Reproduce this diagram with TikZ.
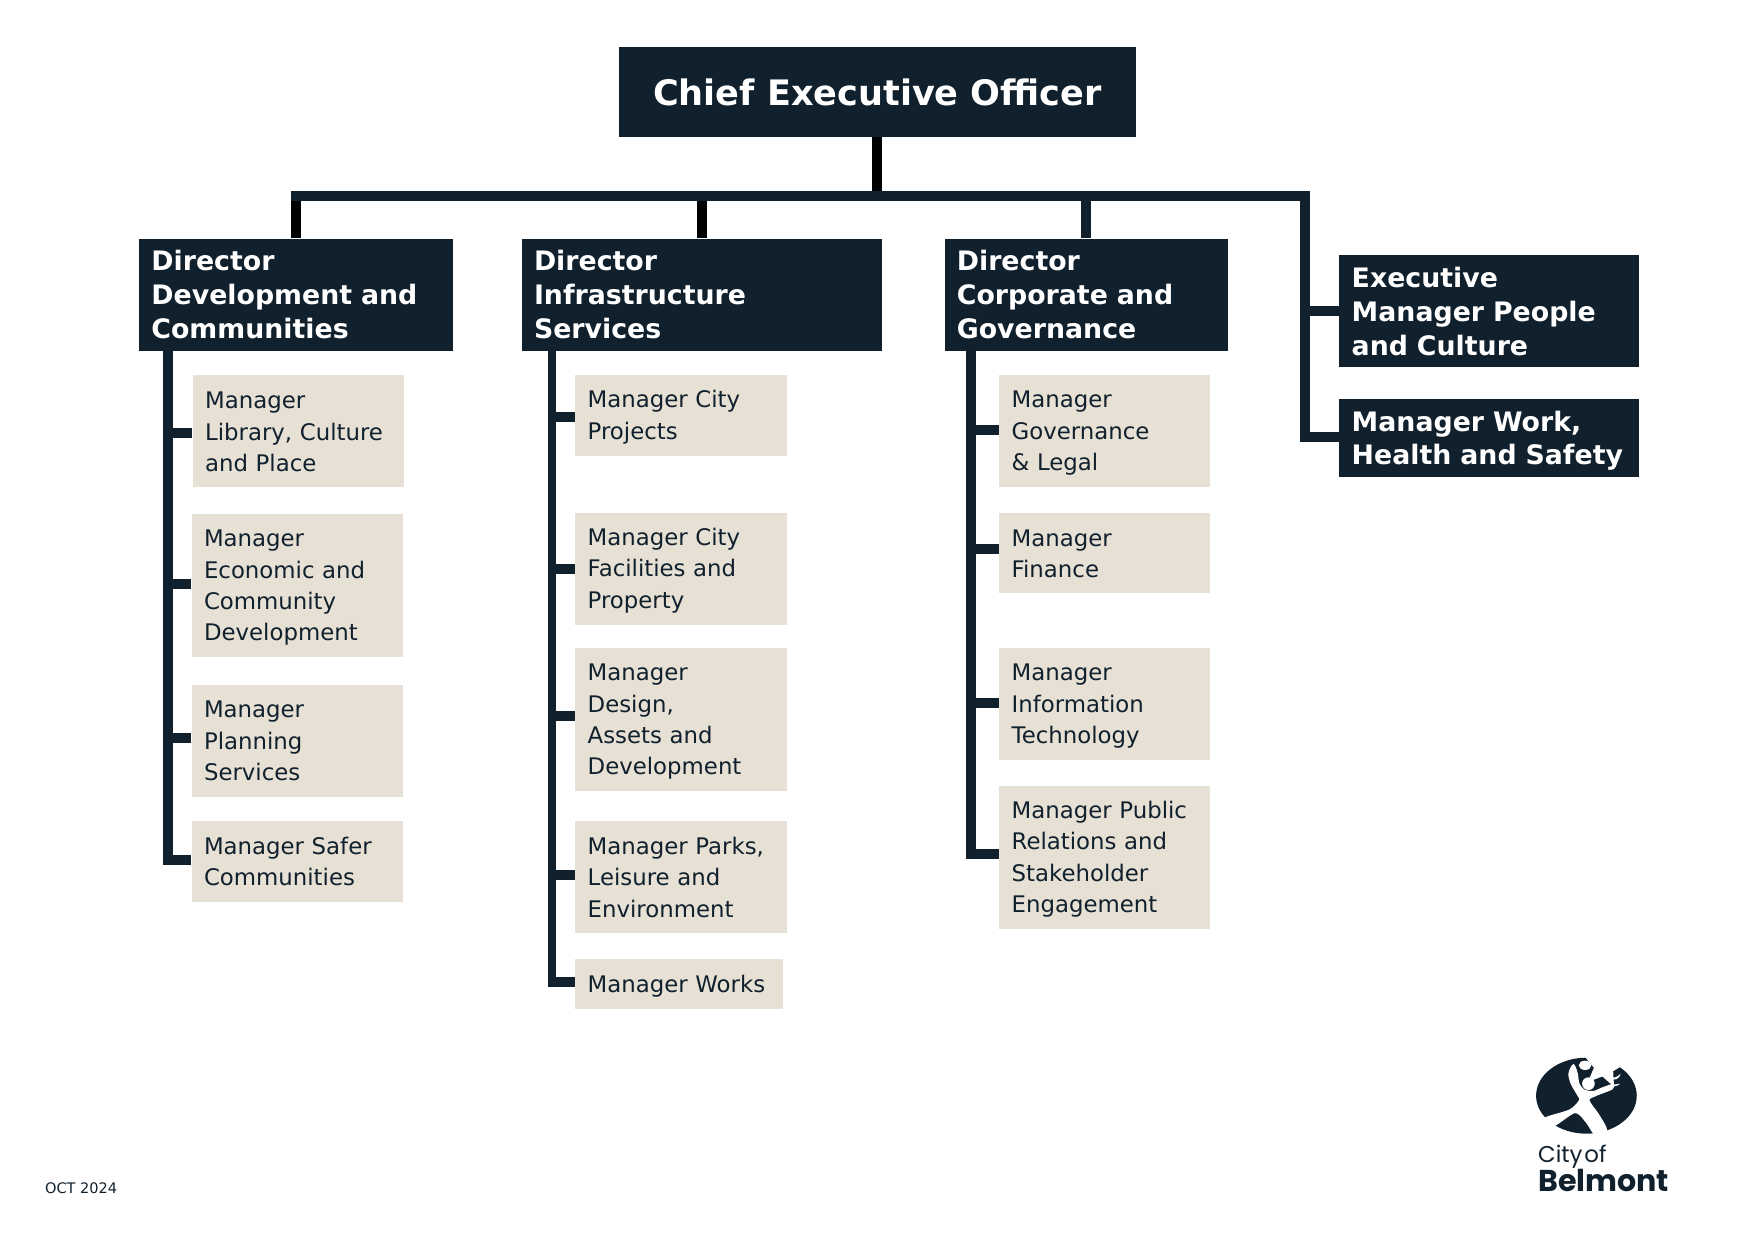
\documentclass[tikz,border=0pt]{standalone}
\usepackage{fontspec}
\usetikzlibrary{shapes.geometric}
\setmainfont{DejaVu Sans}
\newfontfamily\logofont{Poppins}
\definecolor{navy}{HTML}{11202D}
\definecolor{beige}{HTML}{E7E1D5}
\def\un{0.018941cm}
\tikzset{%
    mgr/.style 2 args={anchor=north west,fill=beige,text=navy,inner xsep=11*\un,inner ysep=0pt,
        text width=(#1-22)*\un,minimum height=#2*\un,align=left,font=\fontsize{11}{15.1}\selectfont},
    dir/.style 2 args={mgr={#1}{#2},fill=navy,text=white,font=\fontsize{12.9}{16.2}\selectfont\bfseries},
    drop/.style={execute at begin node={\leavevmode\rule{0pt}{#1pt}}},
    link/.style={draw=navy,line width=4.8pt},
    stem/.style={draw=black,line width=4.8pt}
}

\begin{document}
\begin{tikzpicture}[x=0.018941cm,y=-0.018941cm]
        \useasboundingbox (0,0) rectangle (1568,1108.5);

        \node[anchor=north west,fill=navy,text=white,minimum width=462*\un,minimum height=80*\un,
            inner sep=0pt,font=\fontsize{16.9}{20}\selectfont\bfseries] (ceo) at (553,42){Chief Executive Officer};

        \node[dir={281}{100}] (d1) at (124,213){Director\\Development and\\Communities};
        \node[dir={322}{100}] (d2) at (466,213){Director\\Infrastructure\\Services};
        \node[dir={253}{100}] (d3) at (844,213){Director\\Corporate and\\Governance};
        \node[dir={268}{100}] (e1) at (1197,228){Executive\\Manager People\\and Culture};
        \node[dir={268}{70},drop=12.6] (e2) at (1197,356){Manager Work,\\Health and Safety};

        \node[mgr={189}{100},drop=9] (m11) at (172,335){Manager\\Library, Culture\\and Place};
        \node[mgr={189}{128},drop=10.2] (m12) at (171,459){Manager\\Economic and\\Community\\Development};
        \node[mgr={189}{100}] (m13) at (171,612){Manager\\Planning\\Services};
        \node[mgr={189}{72}] (m14) at (171,734){Manager Safer\\Communities};

        \node[mgr={189}{72},drop=10.2] (m21) at (514,335){Manager City\\Projects};
        \node[mgr={189}{100},drop=10.2] (m22) at (514,458){Manager City\\Facilities and\\Property};
        \node[mgr={189}{128},drop=10.2] (m23) at (514,579){Manager\\Design,\\Assets and\\Development};
        \node[mgr={189}{100}] (m24) at (514,734){Manager Parks,\\Leisure and\\Environment};
        \node[mgr={186}{45},drop=10.2] (m25) at (514,857){Manager Works};

        \node[mgr={188}{100},drop=10.2] (m31) at (893,335){Manager\\Governance\\\& Legal};
        \node[mgr={188}{72},drop=9] (m32) at (893,458){Manager\\Finance};
        \node[mgr={188}{100},drop=10.2] (m33) at (893,579){Manager\\Information\\Technology};
        \node[mgr={188}{128},drop=10.2] (m34) at (893,702){Manager Public\\Relations and\\Stakeholder\\Engagement};

        \coordinate (barl) at (264.5,175.5);
        \coordinate (barr) at (1167,175.5);
        \coordinate (t1) at (150.3,313);
        \coordinate (t2) at (493.6,313);
        \coordinate (t3) at (868,313);

        \path[]
            (ceo.south) edge[stem] (ceo.south |- barl)
            (d1.north) edge[stem] (d1.north |- barl)
            (d2.north) edge[stem] (d2.north |- barl)
            (d3.north) edge[link] (d3.north |- barl)
            (e1.west) edge[link] (e1.west -| barr);
        \draw[link,line cap=rect] (barl) -- (barr);
        \draw[link] (barr) |- ([yshift=0.3pt]e2.west);

        \foreach \m/\dy in {m11/2,m12/-1,m13/-3,m14/-2}
            \draw[link] (\m.west) ++(0,\dy) -| (t1);
        \foreach \m/\dy in {m21/1,m22/0,m23/-3,m24/-2}
            \draw[link] (\m.west) ++(0,\dy) -- ++(-20.4,0);
        \draw[link,line width=3.7pt] (t2) |- ([yshift=0.6pt]m25.west);
        \draw[link] (m25.west) ++(0,-2) -- ++(-20.4,0);
        \foreach \m/\dy in {m31/-1,m32/-4,m33/-1,m34/-3}
            \draw[link] (\m.west) ++(0,\dy) -| (t3);

        \node[anchor=west,inner sep=0pt,text=navy,font=\fontsize{7}{8}\selectfont] (date) at (40,1062){OCT 2024};

        \begin{scope}[shift={(1341,930)},scale=0.298]
            \fill[navy] (259,166) ellipse (151 and 114);
            \filldraw[white,line width=1pt] plot[smooth cycle,tension=0.5] coordinates{(220,75) (208,100) (215,130) (235,165) (240,180)
                (210,210) (135,235) (160,255) (225,215) (260,245) (285,280) (318,270) (295,225) (265,180)
                (285,165) (335,145) (335,135) (305,145) (280,155) (250,150) (235,130) (230,100)};
            \fill[white] (255,75) ellipse (19 and 14);
            \fill[white] (265,130) circle (19);
            \node[star,star points=5,star point ratio=2.2,fill=white,inner sep=3.5pt,rotate=-10] (logostar) at (312,78){};
            \fill[white] (325,112) .. controls (345,125) and (358,115) .. (362,100) .. controls (352,110) and (340,115) .. (325,112);
            \fill[white] (330,132) .. controls (342,140) and (352,138) .. (360,130) .. controls (350,132) and (340,134) .. (330,132);
            \node[anchor=west,inner sep=0pt,text=navy,font=\logofont\fontsize{11}{12}\selectfont] (logocity) at (113,350){\spaceskip=0.08em\relax City of};
            \node[anchor=west,inner sep=0pt,text=navy,font=\logofont\fontsize{14.5}{16}\selectfont\bfseries] (logoname) at (113,420){Belmont};
        \end{scope}
    \end{tikzpicture}
\end{document}
